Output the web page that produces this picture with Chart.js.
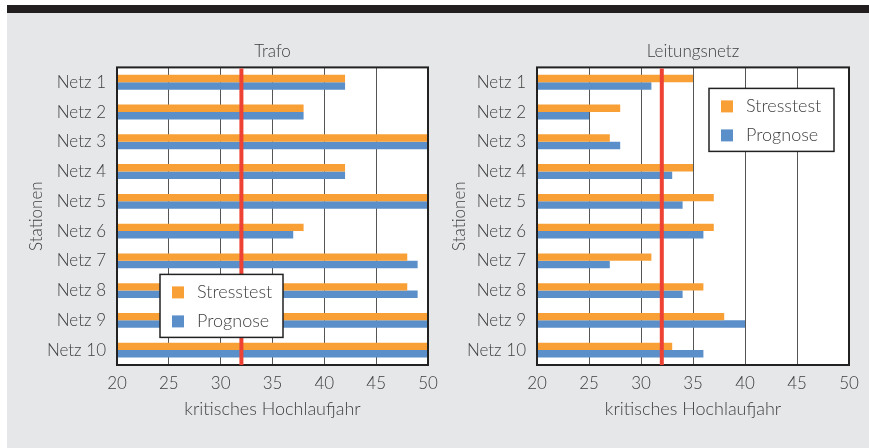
<!DOCTYPE html>
<html><head><meta charset="utf-8">
<script src="https://cdn.jsdelivr.net/npm/chart.js@4"></script>
<style>
html,body{margin:0;padding:0;background:#fff;width:869px;height:448px;overflow:hidden;}
#topbar{position:absolute;left:7px;top:5px;width:862px;height:8px;background:#231f20;}
#panel{position:absolute;left:7px;top:13px;width:862px;height:435px;background:#e6e7e9;}
#c1{position:absolute;left:0;top:0;}
#c2{position:absolute;left:440px;top:0;}
</style></head><body>
<div id="topbar"></div><div id="panel"></div>
<canvas id="c1" width="440" height="448"></canvas>
<canvas id="c2" width="429" height="448"></canvas>
<script>
const categories = ['Netz 1','Netz 2','Netz 3','Netz 4','Netz 5','Netz 6','Netz 7','Netz 8','Netz 9','Netz 10'];
const seriesNames = ['Stresstest','Prognose'];
const trafoStresstest = [42,38,50,42,50,38,48,48,50,50];
const trafoPrognose   = [42,38,50,42,50,37,49,49,50,50];
const netzStresstest  = [35,28,27,35,37,37,31,36,38,33];
const netzPrognose    = [31,25,28,33,34,36,27,34,40,36];
const xTicks = [20,25,30,35,40,45,50];
const threshold = 32;
const chartTitles = ['Trafo','Leitungsnetz'];
const xAxisTitle = 'kritisches Hochlaufjahr';
const yAxisTitle = 'Stationen';

const FONT = 'Lato, "Open Sans", sans-serif';
const TXT = '#404040';
const seriesColors = ['#f8a036','#5b8fca'];

const deco = {
  id: 'deco',
  beforeDraw(chart) {
    const {ctx, chartArea: a} = chart;
    ctx.save();
    ctx.fillStyle = '#ffffff';
    ctx.fillRect(a.left, a.top, a.right - a.left, a.bottom - a.top);
    ctx.restore();
  },
  afterDatasetsDraw(chart, args, opts) {
    const {ctx, chartArea: a} = chart;
    ctx.save();
    ctx.strokeStyle = '#222';
    ctx.lineWidth = 2;
    ctx.strokeRect(a.left, a.top, a.right - a.left, a.bottom - a.top);
    const x = chart.scales.x.getPixelForValue(threshold);
    ctx.strokeStyle = '#ee4334';
    ctx.lineWidth = 4;
    ctx.beginPath();
    ctx.moveTo(x, a.top + 1);
    ctx.lineTo(x, a.bottom);
    ctx.stroke();
    // legend box
    const L = opts.box;
    const bx = a.left + L.x, by = a.top + L.y;
    ctx.fillStyle = '#ffffff';
    ctx.fillRect(bx, by, L.w, L.h);
    ctx.strokeStyle = '#222';
    ctx.lineWidth = 1.5;
    ctx.strokeRect(bx, by, L.w, L.h);
    ctx.font = '300 18px ' + FONT;
    ctx.textBaseline = 'middle';
    ctx.textAlign = 'left';
    chart.data.datasets.forEach((ds, i) => {
      const sy = by + 12 + i * 29;
      ctx.fillStyle = ds.backgroundColor;
      ctx.fillRect(bx + 12, sy, 12, 12);
      ctx.fillStyle = TXT;
      ctx.fillText(ds.label, bx + 37, sy + 6);
    });
    ctx.restore();
  }
};

function makeChart(id, title, stress, progn, yWidth, yTitlePad, padRight, box) {
  return new Chart(document.getElementById(id), {
    type: 'bar',
    data: {
      labels: categories,
      datasets: [
        {label: seriesNames[0], data: stress, backgroundColor: seriesColors[0]},
        {label: seriesNames[1], data: progn, backgroundColor: seriesColors[1]}
      ]
    },
    options: {
      indexAxis: 'y',
      responsive: false,
      animation: false,
      devicePixelRatio: 1,
      categoryPercentage: 0.5,
      barPercentage: 1.0,
      layout: {padding: {left: 0, right: padRight, top: 0, bottom: 0}},
      plugins: {
        legend: {display: false},
        tooltip: {enabled: false},
        title: {display: true, text: title, fullSize: false, color: TXT,
                font: {family: FONT, size: 17, weight: '300'}, padding: {top: 41, bottom: 6}},
        deco: {box: box}
      },
      scales: {
        x: {
          min: 20, max: 50,
          afterBuildTicks: s => { s.ticks = xTicks.map(v => ({value: v})); },
          afterFit: s => { s.height = 83; s.paddingLeft = 0; s.paddingRight = 0; },
          grid: {color: '#555', lineWidth: 1, drawTicks: false},
          border: {display: false},
          ticks: {color: TXT, padding: 8, font: {family: FONT, size: 17, weight: '300'}},
          title: {display: true, text: xAxisTitle, color: TXT, padding: {top: 0, bottom: 28},
                  font: {family: FONT, size: 18, weight: '300'}}
        },
        y: {
          afterFit: s => { s.width = yWidth; s.paddingTop = 0; s.paddingBottom = 0; },
          grid: {display: false, drawTicks: false},
          border: {display: false},
          ticks: {color: TXT, padding: 11, font: {family: FONT, size: 17, weight: '300'}},
          title: {display: true, text: yAxisTitle, color: TXT, padding: {top: yTitlePad, bottom: 0},
                  font: {family: FONT, size: 17, weight: '300'}}
        }
      }
    },
    plugins: [deco]
  });
}

makeChart('c1', chartTitles[0], trafoStresstest, trafoPrognose, 117, 26, 12, {x: 43, y: 207, w: 123, h: 63});
makeChart('c2', chartTitles[1], netzStresstest, netzPrognose, 97, 9, 20, {x: 172, y: 21, w: 125, h: 63});
</script>
</body></html>
